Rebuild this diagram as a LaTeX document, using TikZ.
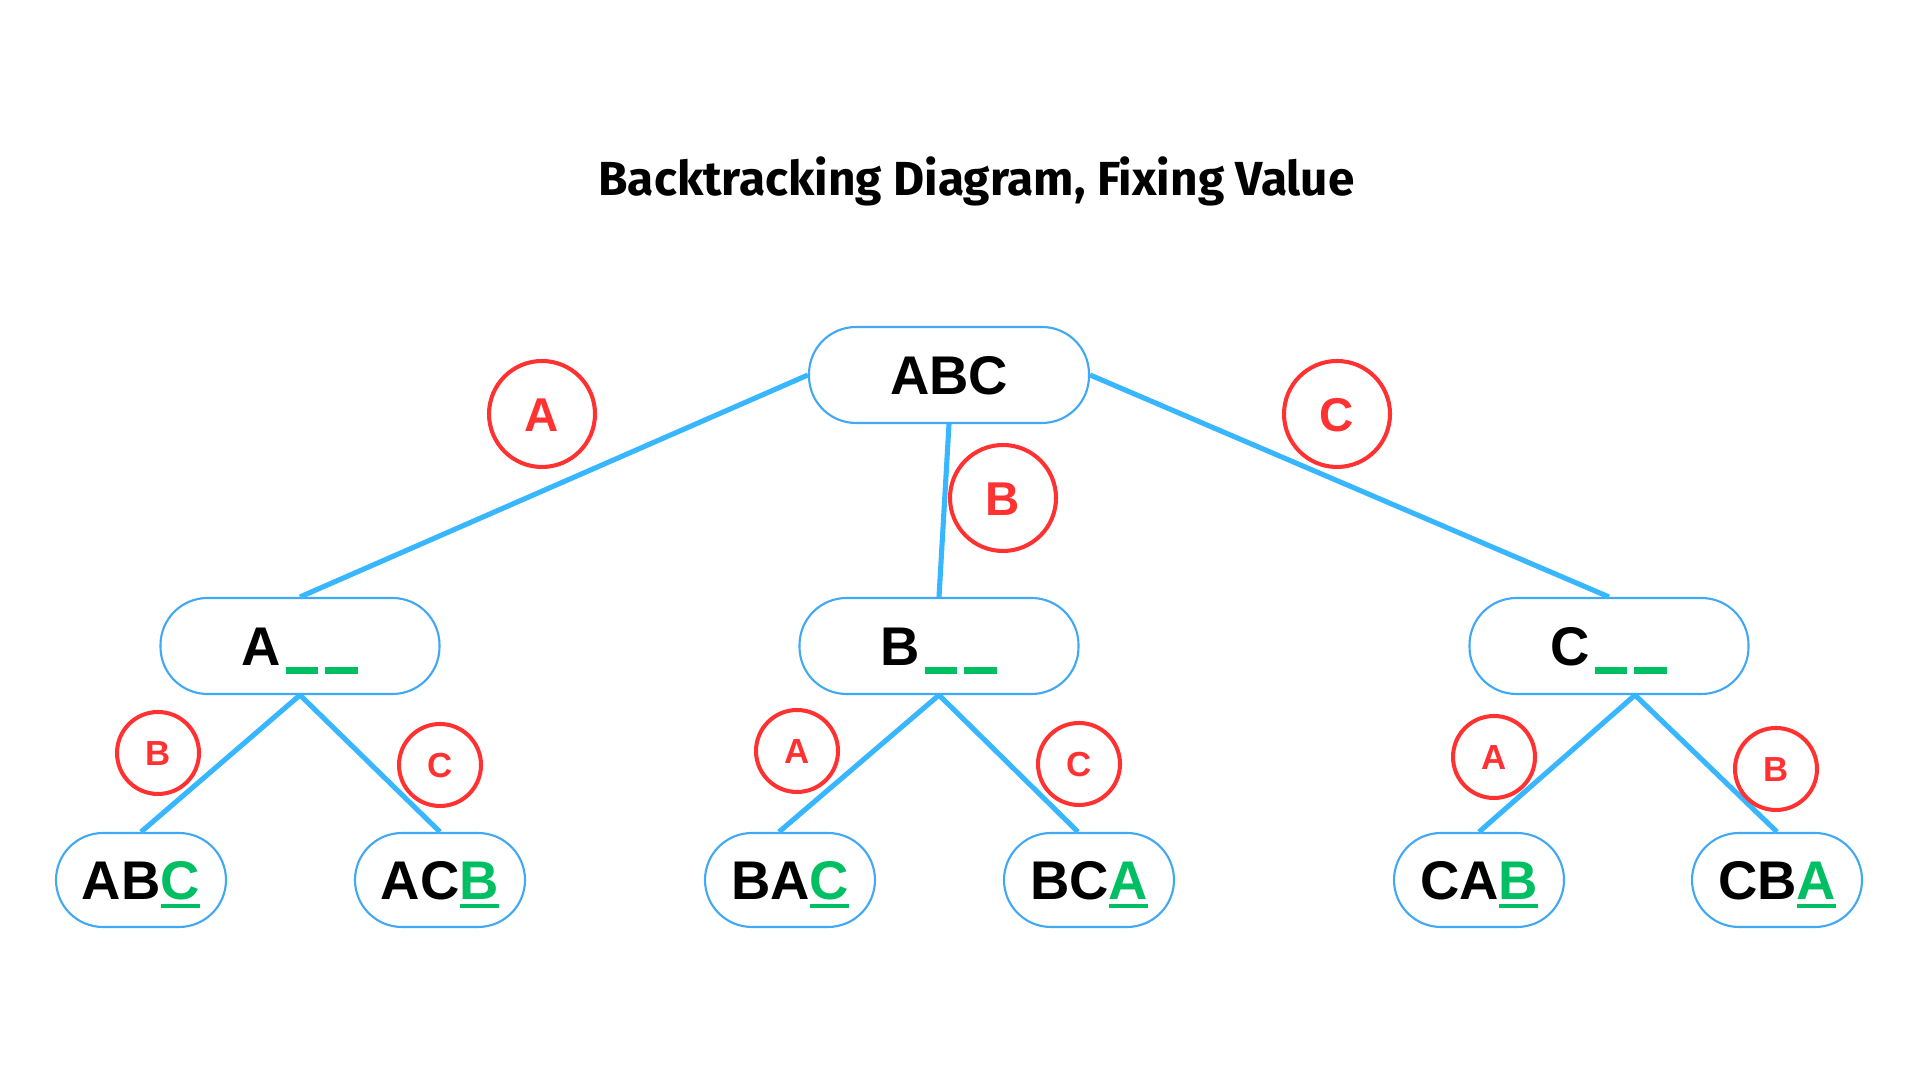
\documentclass[tikz,border=0pt]{standalone}
\usepackage{fontspec}
\setmainfont{Liberation Sans}
\newfontfamily\titrefont{Fira Sans}
\definecolor{bleu}{HTML}{38B6FF}
\definecolor{bord}{HTML}{40A8F4}
\definecolor{rouge}{HTML}{FF3131}
\definecolor{vert}{HTML}{00BF63}
\newcommand{\trous}{\kern0.08em\textcolor{vert}{\rule[-0.165em]{0.6em}{0.13em}\kern0.13em\rule[-0.165em]{0.6em}{0.13em}}}
\newcommand{\fixe}[1]{\textcolor{vert}{\setbox0=\hbox{#1}\rlap{\rule[-0.165em]{\wd0}{0.09em}}\box0}}
\tikzset{noeud/.style={draw=bord,line width=0.6pt,fill=white,rounded corners=0.47cm,minimum width=#1,minimum height=0.96cm,inner sep=0pt,text height=11.1pt,text depth=0pt,font=\fontsize{15.5}{18}\selectfont\bfseries},noeud/.default={2.79cm}}
\tikzset{choix/.style={draw=rouge,line width=1.15pt,circle,minimum size=#1,inner sep=0pt,text=rouge},choix/.default={0.82cm}}
\tikzset{grandchoix/.style={choix=1.06cm,text height=9.7pt,text depth=0pt,font=\fontsize{13.5}{16}\selectfont\bfseries}}
\tikzset{petitchoix/.style={choix,text height=7.1pt,text depth=0pt,font=\fontsize{9.9}{12}\selectfont\bfseries}}

\begin{document}
\begin{tikzpicture}
[lien/.style={draw=bleu,line width=1.45pt},
feuille/.style={noeud=1.70cm,minimum height=0.94cm}]
\useasboundingbox (0,0) rectangle (19.2,10.8);
\node (titre) at (9.765,8.84) [anchor=base,font=\titrefont\bfseries\fontsize{13.6}{16}\selectfont] {Backtracking Diagram, Fixing Value};

\node [noeud=2.80cm] (racine) at (9.49,7.05) {ABC};
\node [noeud] (a) at (3.00,4.34) {A\trous};
\node [noeud] (b) at (9.39,4.34) {B\trous};
\node [noeud] (c) at (16.09,4.34) {C\trous};

\node [feuille] (fabc) at (1.41,2.00) {AB\fixe{C}};
\node [feuille] (facb) at (4.40,2.00) {AC\fixe{B}};
\node [feuille] (fbac) at (7.90,2.00) {BA\fixe{C}};
\node [feuille] (fbca) at (10.89,2.00) {BC\fixe{A}};
\node [feuille] (fcab) at (14.79,2.00) {CA\fixe{B}};
\node [feuille] (fcba) at (17.77,2.00) {CB\fixe{A}};

\draw [lien] (racine.west) -- (a.north);
\draw [lien] (racine.south) -- (b.north);
\draw [lien] (racine.east) -- (c.north);
\draw [lien] (a.south) -- (fabc.north);
\draw [lien] (a.south) -- (facb.north);
\draw [lien] (b.south) -- ([xshift=-0.11cm]fbac.north);
\draw [lien] (b.south) -- ([xshift=-0.11cm]fbca.north);
\draw [lien] ([xshift=0.26cm]c.south) -- (fcab.north);
\draw [lien] ([xshift=0.26cm]c.south) -- (fcba.north);

\node [grandchoix] (ca) at (5.42,6.66) {A};
\node [grandchoix] (cb) at (10.03,5.82) {B};
\node [grandchoix] (cc) at (13.37,6.66) {C};
\node [petitchoix] (cab) at (1.58,3.27) {B};
\node [petitchoix] (cac) at (4.40,3.15) {C};
\node [petitchoix] (cba) at (7.97,3.29) {A};
\node [petitchoix] (cbc) at (10.79,3.16) {C};
\node [petitchoix] (cca) at (14.94,3.23) {A};
\node [petitchoix] (ccb) at (17.76,3.11) {B};
\end{tikzpicture}
\end{document}
